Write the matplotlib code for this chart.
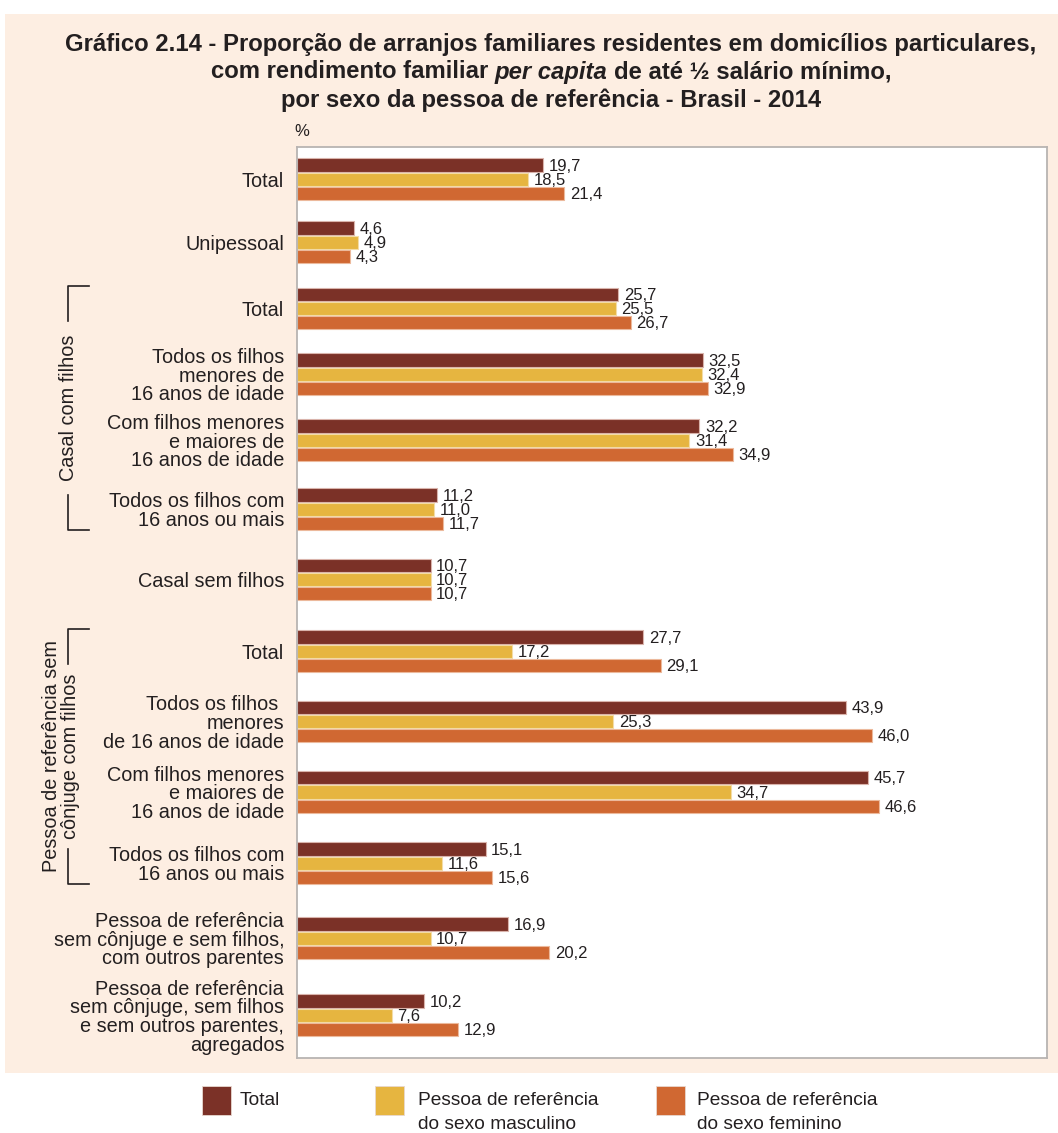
import matplotlib
matplotlib.use("Agg")
import matplotlib.pyplot as plt
import matplotlib.transforms as mtransforms
from matplotlib.patches import Rectangle
from matplotlib.lines import Line2D
import numpy as np

# ---- data -------------------------------------------------------------
categories = [
    "Total",
    "Unipessoal",
    "Total",
    "Todos os filhos\nmenores de\n16 anos de idade",
    "Com filhos menores\ne maiores de\n16 anos de idade",
    "Todos os filhos com\n16 anos ou mais",
    "Casal sem filhos",
    "Total",
    "Todos os filhos \nmenores\nde 16 anos de idade",
    "Com filhos menores\ne maiores de\n16 anos de idade",
    "Todos os filhos com\n16 anos ou mais",
    "Pessoa de referência\nsem cônjuge e sem filhos,\ncom outros parentes",
    "Pessoa de referência\nsem cônjuge, sem filhos\ne sem outros parentes,\nagregados",
]
total = [19.7, 4.6, 25.7, 32.5, 32.2, 11.2, 10.7, 27.7, 43.9, 45.7, 15.1, 16.9, 10.2]
masculino = [18.5, 4.9, 25.5, 32.4, 31.4, 11.0, 10.7, 17.2, 25.3, 34.7, 11.6, 10.7, 7.6]
feminino = [21.4, 4.3, 26.7, 32.9, 34.9, 11.7, 10.7, 29.1, 46.0, 46.6, 15.6, 20.2, 12.9]
series_names = ["Total",
                "Pessoa de referência\ndo sexo masculino",
                "Pessoa de referência\ndo sexo feminino"]
group_labels = ["Casal com filhos", "Pessoa de referência sem\ncônjuge com filhos"]
group_spans = [(2, 5), (7, 10)]

# ---- style ------------------------------------------------------------
colors = ["#7b3127", "#e6b540", "#d06832"]
edge_colors = ["#d9b3ab", "#f3dca6", "#ecb99c"]
panel_color = "#fdeee2"
text_color = "#231f20"
label_font = ["Liberation Sans", "DejaVu Sans"]
title_font = ["Liberation Sans Narrow", "Liberation Sans", "DejaVu Sans"]
plt.rcParams["font.family"] = label_font
label_size = 14.3

W, H = 1058, 1133
fig = plt.figure(figsize=(W / 100, H / 100), dpi=100)


def fx(px):
    return px / W


def fy(py):
    return 1 - py / H


# peach panel behind title and chart
fig.patches.append(Rectangle((fx(5), fy(1073)), fx(1058) - fx(5), fy(14) - fy(1073),
                             transform=fig.transFigure, facecolor=panel_color,
                             edgecolor="none", zorder=0))

# spacing between category groups (in bar-height units)
gaps = [4.41, 4.63, 4.60, 4.62, 4.83, 4.90, 5.03, 4.90, 4.94, 4.99, 5.24, 5.38]
centers = np.concatenate([[0.0], np.cumsum(gaps)])
bar_h = 0.93
pitch = 1.0

ax = fig.add_axes([fx(296.7), fy(1058.3), fx(1047) - fx(296.7), fy(146.7) - fy(1058.3)])
ax.set_facecolor("white")
ax.set_zorder(1)

series = [total, masculino, feminino]
for k, vals in enumerate(series):
    ypos = centers + (k - 1) * pitch
    ax.barh(ypos, vals, height=bar_h, color=colors[k], edgecolor=edge_colors[k],
            linewidth=0.8, zorder=2)
    for y, v in zip(ypos, vals):
        ax.text(v + 0.45, y + 0.08, f"{v:.1f}".replace(".", ","), va="center", ha="left",
                fontsize=12, color=text_color, zorder=3)

ax.set_xlim(0, 60)
ax.set_ylim(centers[-1] + 3.01, -2.28)
ax.set_xticks([])
ax.set_yticks(centers)
ax.set_yticklabels(categories)
ax.tick_params(axis="y", length=0, pad=9, labelsize=label_size, labelcolor=text_color)
for t in ax.get_yticklabels():
    t.set_linespacing(0.98)
for s in ax.spines.values():
    s.set_color("#b8b4b2")
    s.set_linewidth(1.3)

# group brackets with rotated titles
blend = mtransforms.blended_transform_factory(fig.transFigure, ax.transData)
for (i0, i1), lab, tx in zip(group_spans, group_labels, [68, 61]):
    top = centers[i0] - 1.57
    bot = centers[i1] + 1.45
    seg = 2.45
    xl, xr = fx(68), fx(89)
    for xs, ys in [([xr, xl, xl], [top, top, top + seg]),
                   ([xl, xl, xr], [bot - seg, bot, bot])]:
        fig.add_artist(Line2D(xs, ys, transform=blend, color=text_color, lw=1.2))
    fig.text(fx(tx), (top + bot) / 2, lab, transform=blend, rotation=90,
             ha="center", va="center", multialignment="center", linespacing=1.0,
             fontsize=label_size, color=text_color)

# unit marker
fig.text(fx(294), fy(132), "%", fontsize=12, color=text_color, ha="left", va="center")

# title
title_kw = dict(fontsize=17.2, fontweight="bold", color=text_color, family=title_font)
fig.text(fx(551), fy(45), "Gráfico 2.14 - Proporção de arranjos familiares residentes em domicílios particulares,",
         ha="center", va="center", **title_kw)
fig.text(fx(551), fy(100), "por sexo da pessoa de referência - Brasil - 2014",
         ha="center", va="center", **title_kw)

renderer = fig.canvas.get_renderer()
pieces = [("com rendimento familiar", "normal"), ("per capita", "italic"),
          ("de até ½ salário mínimo,", "normal")]
probe_a = fig.text(0, 0, "xx", **title_kw)
probe_b = fig.text(0, 0, "x x", **title_kw)
space_w = probe_b.get_window_extent(renderer).width - probe_a.get_window_extent(renderer).width
probe_a.remove()
probe_b.remove()
arts = []
widths = []
for txt, style in pieces:
    a = fig.text(0, fy(72), txt, ha="left", va="center", style=style, **title_kw)
    arts.append(a)
    widths.append(a.get_window_extent(renderer).width)
total_w = sum(widths) + space_w * (len(pieces) - 1)
x0 = 551 - total_w / 2
for a, w in zip(arts, widths):
    a.set_x(fx(x0))
    x0 += w + space_w

# legend
leg_items = [(201.7, 240), (375, 418), (656, 697)]
for (sx, tx), c, name in zip(leg_items, colors, series_names):
    fig.patches.append(Rectangle((fx(sx), fy(1115)), 29 / W, 29 / H, transform=fig.transFigure,
                                 facecolor=c, edgecolor="#e8d8d0", lw=0.6))
    fig.text(fx(tx), fy(1092), name, ha="left", va="top", fontsize=13.8,
             color=text_color, linespacing=1.55)

fig.savefig("out.png", dpi=100)
